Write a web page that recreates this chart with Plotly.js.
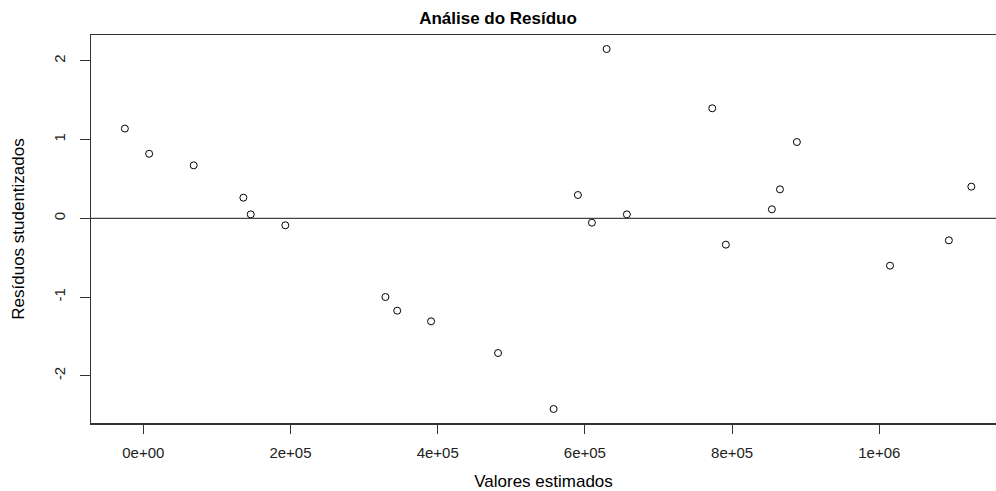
<!DOCTYPE html>
<html>
<head>
<meta charset="utf-8">
<script src="https://cdn.plot.ly/plotly-3.0.1.min.js"></script>
<style>html,body{margin:0;padding:0;background:#fff;}#chart{width:996px;height:491px;}</style>
</head>
<body>
<div id="chart"></div>
<script>
const valoresEstimados = [-25000, 8000, 68500, 136000, 146000, 193000, 329000, 345000, 391000, 482000, 557500, 590500, 609500, 629500, 657000, 773000, 791500, 854000, 865000, 888000, 1014500, 1094500, 1125000];
const residuos = [1.14, 0.82, 0.673, 0.262, 0.05, -0.089, -1.0, -1.174, -1.309, -1.712, -2.423, 0.296, -0.056, 2.151, 0.05, 1.398, -0.335, 0.114, 0.368, 0.969, -0.602, -0.28, 0.402];
const xTickVals = [0, 200000, 400000, 600000, 800000, 1000000];
const xTickText = ["0e+00", "2e+05", "4e+05", "6e+05", "8e+05", "1e+06"];
const yTickVals = [-2, -1, 0, 1, 2];
const yTickText = ["-2", "-1", "0", "1", "2"];

const font = "Liberation Sans, Arial, sans-serif";

const trace = {
  x: valoresEstimados, y: residuos, type: "scatter", mode: "markers",
  marker: {symbol: "circle-open", size: 7, color: "#000", line: {width: 1, color: "#000"}},
  hoverinfo: "skip", showlegend: false
};

const layout = {
  width: 996, height: 491,
  margin: {l: 91, r: 0, t: 35, b: 68},
  paper_bgcolor: "#fff", plot_bgcolor: "#fff",
  font: {family: font, color: "#000"},
  title: {text: "<b>Análise do Resíduo</b>", font: {family: font, size: 17, color: "#000"},
          xref: "container", x: 0.5, xanchor: "center", yref: "container", y: 1 - 18/491, yanchor: "middle"},
  xaxis: {
    range: [-71000, 1158500], tickvals: xTickVals, ticktext: xTickText,
    showgrid: false, zeroline: false, showline: true, linecolor: "#333", linewidth: 1.5, mirror: true,
    ticks: "outside", ticklen: 9, tickcolor: "#333", tickwidth: 1,
    tickfont: {family: font, size: 15, color: "#222"}, ticklabelstandoff: 6,
    title: {text: "Valores estimados", font: {family: font, size: 17, color: "#000"}, standoff: 16}
  },
  yaxis: {
    range: [-2.601, 2.329], tickvals: yTickVals, ticktext: yTickText, tickangle: -90,
    showgrid: false, zeroline: false, showline: true, linecolor: "#333", linewidth: 1.5, mirror: false,
    ticks: "outside", ticklen: 10, tickcolor: "#333", tickwidth: 1,
    tickfont: {family: font, size: 15, color: "#222"}, ticklabelstandoff: 9,
    title: {text: "Resíduos studentizados", font: {family: font, size: 17, color: "#000"}, standoff: 21}
  },
  shapes: [{type: "line", xref: "paper", x0: 0, x1: 1, yref: "y", y0: 0, y1: 0, line: {color: "#444", width: 1.2}}]
};

Plotly.newPlot("chart", [trace], layout, {staticPlot: true, displayModeBar: false});
</script>
</body>
</html>
